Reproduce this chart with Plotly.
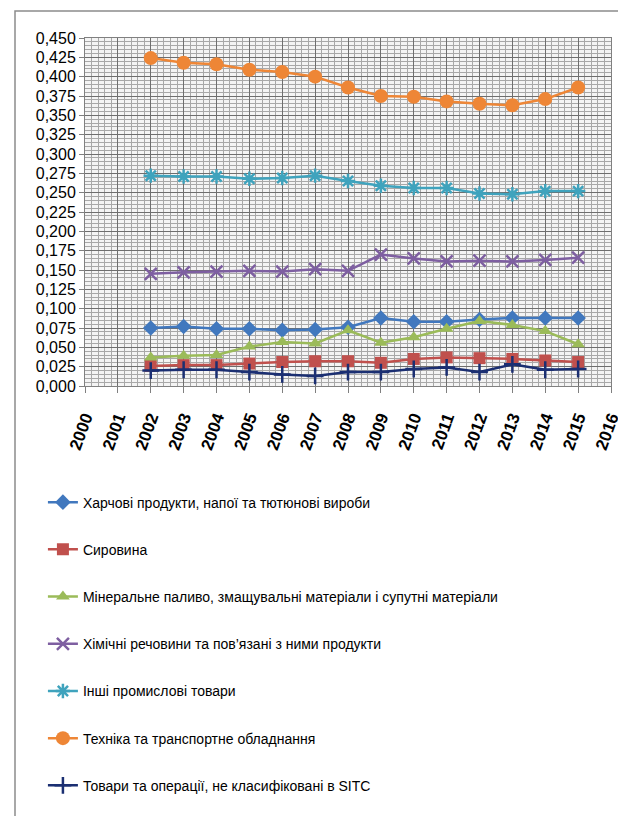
import plotly.graph_objects as go

years = [2002, 2003, 2004, 2005, 2006, 2007, 2008, 2009, 2010, 2011, 2012, 2013, 2014, 2015]

food = [0.075, 0.077, 0.074, 0.074, 0.072, 0.073, 0.076, 0.088, 0.083, 0.083, 0.086, 0.088, 0.088, 0.088]
raw = [0.026, 0.027, 0.027, 0.029, 0.031, 0.032, 0.032, 0.030, 0.035, 0.037, 0.036, 0.035, 0.033, 0.031]
fuel = [0.037, 0.039, 0.040, 0.051, 0.057, 0.055, 0.072, 0.056, 0.063, 0.074, 0.084, 0.079, 0.071, 0.054]
chem = [0.145, 0.147, 0.148, 0.149, 0.148, 0.151, 0.149, 0.170, 0.165, 0.161, 0.162, 0.161, 0.163, 0.166]
other = [0.272, 0.271, 0.271, 0.268, 0.269, 0.272, 0.265, 0.259, 0.256, 0.256, 0.249, 0.248, 0.252, 0.252]
machinery = [0.424, 0.418, 0.416, 0.409, 0.406, 0.400, 0.386, 0.375, 0.374, 0.368, 0.365, 0.363, 0.371, 0.386]
unclassified = [0.020, 0.021, 0.021, 0.018, 0.015, 0.013, 0.018, 0.018, 0.022, 0.024, 0.018, 0.028, 0.021, 0.022]

names = [
    "Харчові продукти, напої та тютюнові вироби",
    "Сировина",
    "Мінеральне паливо, змащувальні матеріали і супутні матеріали",
    "Хімічні речовини та пов\u2019язані з ними продукти",
    "Інші промислові товари",
    "Техніка та транспортне обладнання",
    "Товари та операції, не класифіковані в SITC",
]
series = [food, raw, fuel, chem, other, machinery, unclassified]
colors = ["#4178BE", "#C0504D", "#9BBB59", "#7E5FA1", "#3FA3BD", "#EE8636", "#1B2F72"]
symbols = ["diamond", "square", "triangle-up", "x-thin-open", "asterisk-open", "circle", "cross-thin-open"]
sizes = [12, 12, 12, 12, 12, 14, 12]

tick_years = list(range(2000, 2017))

FONT = "Liberation Sans, Arial, sans-serif"

T, B = 30, 438
PH = 816 - T - B
PB = 816 - B  # pixel y of plot bottom (intended)

fig = go.Figure()
for i, (nm, ys) in enumerate(zip(names, series)):
    open_sym = symbols[i].endswith("open")
    fig.add_trace(go.Scatter(
        x=years, y=ys, name=nm, mode="lines+markers",
        legendgroup=f"g{i}",
        line=dict(color=colors[i], width=2.5),
        marker=dict(symbol=symbols[i], size=sizes[i], color=colors[i],
                    line=dict(color=colors[i], width=2.5 if open_sym else 0)),
    ))

fig.update_layout(
    width=626, height=816,
    margin=dict(l=77, r=23, t=T, b=B),
    paper_bgcolor="white",
    plot_bgcolor="#f4f4f4",
    separators=", ",
    font=dict(family=FONT, color="black"),
    showlegend=True,
    legend=dict(
        x=-0.08, y=-0.289, xanchor="left", yanchor="top",
        font=dict(family=FONT, size=14, color="black"),
        traceorder="grouped", tracegroupgap=26,
        itemwidth=30, bgcolor="rgba(0,0,0,0)",
    ),
    shapes=[dict(type="rect", xref="paper", yref="paper",
                 x0=(7 - 77) / 526, x1=(640 - 77) / 526,
                 y0=(PB - 823) / PH, y1=(PB - 3) / PH,
                 line=dict(color="#8c8c8c", width=1.5), layer="below")],
)

fig.update_xaxes(
    range=[2000, 2016], tickmode="array", tickvals=tick_years,
    ticktext=[str(y) for y in tick_years],
    tickangle=-70, tickfont=dict(family=FONT, size=17, color="black", weight="bold"),
    ticks="outside", ticklen=6, tickcolor="#808080", ticklabelstandoff=8,
    showgrid=True, gridcolor="#6e6e6e", gridwidth=1.3,
    minor=dict(dtick=0.2, showgrid=True, gridcolor="#a8a8a8", gridwidth=1),
    showline=True, linecolor="#808080", linewidth=1, mirror=True,
    zeroline=False,
)
fig.update_yaxes(
    range=[0, 0.45], dtick=0.025, tick0=0, tickformat=".3f",
    tickfont=dict(family=FONT, size=16, color="black"),
    ticks="outside", ticklen=5, tickcolor="#808080",
    showgrid=True, gridcolor="#6e6e6e", gridwidth=1.3,
    minor=dict(dtick=0.005, showgrid=True, gridcolor="#a8a8a8", gridwidth=1),
    showline=True, linecolor="#808080", linewidth=1, mirror=True,
    zeroline=False,
)

fig.write_html("out.html")
